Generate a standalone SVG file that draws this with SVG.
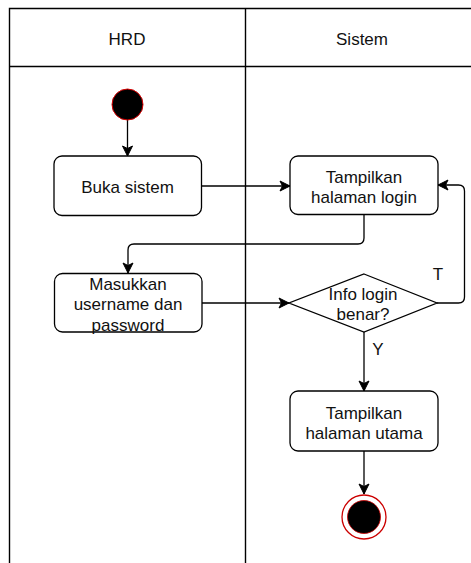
<svg xmlns="http://www.w3.org/2000/svg" width="471" height="563" viewBox="0 0 471 563">
<style>
.lane{fill:none;stroke:#000;stroke-width:1.4}
.box{fill:#fff;stroke:#000;stroke-width:1.3}
.edge{fill:none;stroke:#000;stroke-width:1.3}
.t{font-family:"Liberation Sans",Arial,sans-serif;font-size:17px;fill:#111;text-anchor:middle}
</style>
<defs>
<marker id="arr" markerUnits="userSpaceOnUse" markerWidth="12" markerHeight="12" viewBox="0 0 12 12" refX="11" refY="6" orient="auto">
<path d="M1,1 L11,6 L1,11 L3.5,6 Z" fill="#000" stroke="#000" stroke-width="1"/>
</marker>
</defs>
<g id="swimlanes">
<path class="lane" d="M9.5,563 V8.5 H480"/>
<path class="lane" d="M9.5,66.5 H480"/>
<path class="lane" d="M245.5,8.5 V563"/>
<text class="t" x="127" y="45">HRD</text>
<text class="t" x="362" y="45">Sistem</text>
</g>
<g id="connectors">
<path class="edge" d="M127.5,120 V156" marker-end="url(#arr)"/>
<path class="edge" d="M201.5,186 H290" marker-end="url(#arr)"/>
<path class="edge" d="M364,214 V238 Q364,244 358,244 H134 Q128,244 128,250 V273" marker-end="url(#arr)"/>
<path class="edge" d="M202,303 H289" marker-end="url(#arr)"/>
<path class="edge" d="M437,303 H458.5 Q464.5,303 464.5,297 V191 Q464.5,185 458.5,185 H438" marker-end="url(#arr)"/>
<path class="edge" d="M364,332 V391" marker-end="url(#arr)"/>
<path class="edge" d="M364,451 V494" marker-end="url(#arr)"/>
<text class="t" x="438" y="280">T</text>
<text class="t" x="378" y="355">Y</text>
</g>
<g id="start">
<circle cx="127.5" cy="104.5" r="15.5" fill="#000" stroke="#d00" stroke-width="1"/>
</g>
<g id="buka-sistem">
<rect class="box" x="54" y="156" width="147.5" height="59.5" rx="8"/>
<text class="t" x="127.5" y="192.5">Buka sistem</text>
</g>
<g id="tampilkan-login">
<rect class="box" x="290" y="156" width="148" height="58.5" rx="8"/>
<text class="t" x="364" y="182.5">Tampilkan</text>
<text class="t" x="364" y="203">halaman login</text>
</g>
<g id="masukkan">
<rect class="box" x="54.5" y="273.5" width="147.5" height="58.5" rx="8"/>
<text class="t" x="128" y="289.5">Masukkan</text>
<text class="t" x="128" y="310">username dan</text>
<text class="t" x="128" y="330.5">password</text>
</g>
<g id="decision">
<path class="box" d="M364,274 L437,303 L364,332 L289,303 Z"/>
<text class="t" x="363" y="299.5">Info login</text>
<text class="t" x="363" y="320">benar?</text>
</g>
<g id="tampilkan-utama">
<rect class="box" x="290" y="391" width="148" height="60" rx="8"/>
<text class="t" x="364" y="418.5">Tampilkan</text>
<text class="t" x="364" y="439">halaman utama</text>
</g>
<g id="end">
<circle cx="364" cy="517" r="22" fill="#fff" stroke="#c00" stroke-width="1.3"/>
<circle cx="364" cy="517" r="16.5" fill="#000" stroke="#c00" stroke-width="0.8"/>
</g>
</svg>
